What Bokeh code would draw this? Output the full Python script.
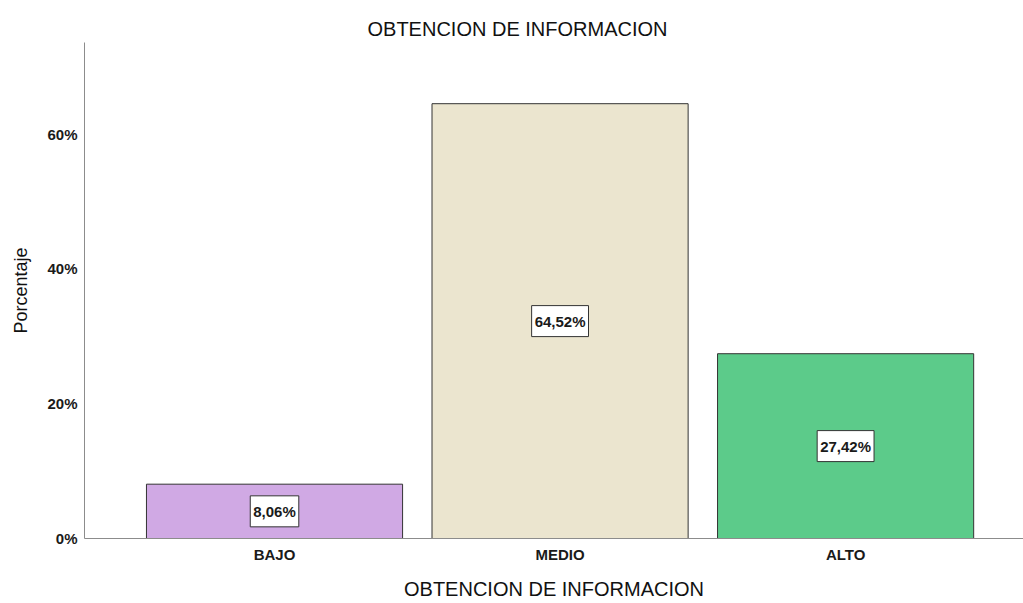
from bokeh.plotting import figure
from bokeh.models import ColumnDataSource, Range1d, Label, FixedTicker
from bokeh.embed import file_html
from bokeh.resources import INLINE

# ---- data ----
categories = ["BAJO", "MEDIO", "ALTO"]
percentages = [8.06, 64.52, 27.42]
bar_colors = ["#d0a9e4", "#ebe5cf", "#5ccb8a"]
y_ticks = [0, 20, 40, 60]
y_tick_labels = ["0%", "20%", "40%", "60%"]
title_text = "OBTENCION DE INFORMACION"
x_title = "OBTENCION DE INFORMACION"
y_title = "Porcentaje"

SANS = "'Liberation Sans', Arial, sans-serif"

idx = list(range(len(categories)))
src = ColumnDataSource(dict(
    x=idx,
    top=percentages,
    color=bar_colors,
))

p = figure(width=1023, height=603, output_backend="svg", toolbar_location=None,
           x_range=Range1d(-0.6655, 2.623), y_range=Range1d(0, 73.6),
           min_border_left=84, min_border_right=0, min_border_top=42,
           min_border_bottom=65)
p.outline_line_color = None
p.xgrid.visible = False
p.ygrid.visible = False
p.background_fill_color = "white"
p.border_fill_color = "white"

p.title.text = title_text
p.title.align = "left"
p.title.offset = 283
p.title.text_font = SANS
p.title.text_font_style = "normal"
p.title.text_font_size = "20px"
p.title.text_color = "#111111"
p.title.standoff = 6

p.vbar(x="x", top="top", bottom=0, width=0.897, source=src, fill_color="color",
       line_color="#333333", line_width=1)

for i, v in zip(idx, percentages):
    p.add_layout(Label(x=i, y=v / 2, text=("%.2f" % v).replace(".", ",") + "%",
                       text_align="center", text_baseline="middle", text_font=SANS,
                       text_font_size="15px", text_font_style="bold",
                       text_color="#1a1a1a", background_fill_color="white",
                       border_line_color="#333333", border_line_width=1,
                       padding=(3, 7)))

# axes
xa = p.xaxis[0]
xa.ticker = FixedTicker(ticks=idx)
xa.major_label_overrides = {i: c for i, c in zip(idx, categories)}
xa.major_tick_line_color = None
xa.minor_tick_line_color = None
xa.major_tick_out = 0
xa.major_tick_in = 0
xa.major_label_standoff = 7
xa.axis_line_color = "#8c8c8c"
xa.major_label_text_font = SANS
xa.major_label_text_font_style = "bold"
xa.major_label_text_font_size = "15px"
xa.major_label_text_color = "#1a1a1a"
xa.axis_label = x_title
xa.axis_label_text_font = SANS
xa.axis_label_text_font_style = "normal"
xa.axis_label_text_font_size = "20px"
xa.axis_label_text_color = "#111111"
xa.axis_label_standoff = 12

ya = p.yaxis[0]
ya.ticker = FixedTicker(ticks=y_ticks)
ya.major_label_overrides = {t: l for t, l in zip(y_ticks, y_tick_labels)}
ya.major_tick_line_color = None
ya.minor_tick_line_color = None
ya.major_tick_out = 0
ya.major_tick_in = 0
ya.major_label_standoff = 7
ya.axis_line_color = "#8c8c8c"
ya.major_label_text_font = SANS
ya.major_label_text_font_style = "bold"
ya.major_label_text_font_size = "15px"
ya.major_label_text_color = "#1a1a1a"
ya.axis_label = y_title
ya.axis_label_text_font = SANS
ya.axis_label_text_font_style = "normal"
ya.axis_label_text_font_size = "18px"
ya.axis_label_text_color = "#111111"
ya.axis_label_standoff = 13

open("out.html", "w").write(file_html(p, INLINE))
